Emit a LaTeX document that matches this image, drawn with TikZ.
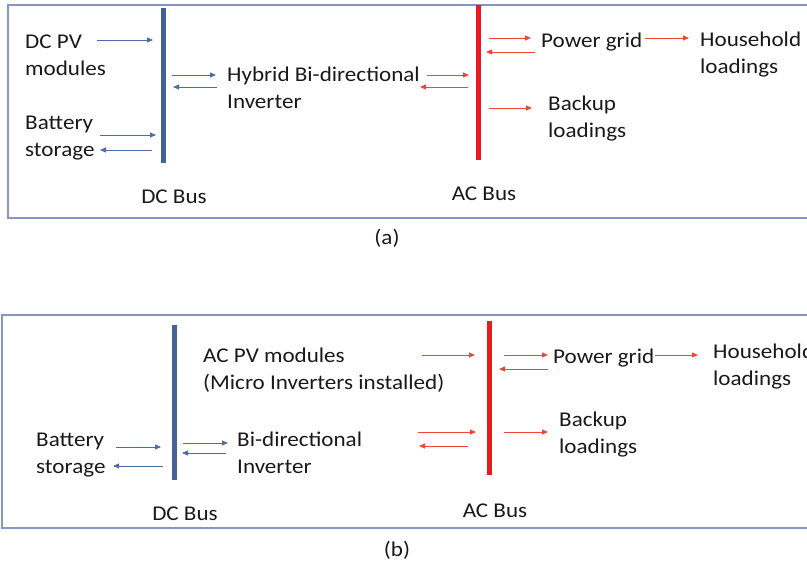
\documentclass[tikz,border=0pt]{standalone}
\usepackage{fontspec}
\setmainfont{Carlito}[FakeStretch=1.1]
\usetikzlibrary{arrows.meta}
\definecolor{frameblue}{RGB}{135,148,196}
\definecolor{busblue}{RGB}{68,98,150}
\definecolor{arrblue}{RGB}{78,108,168}
\definecolor{busred}{RGB}{232,28,32}
\definecolor{arrred}{RGB}{240,70,55}
\definecolor{txt}{RGB}{25,25,25}
\tikzset{
  lbl/.style={anchor=base west, inner sep=0pt, align=left, text=txt, font=\fontsize{21}{26.5}\selectfont},
  captxt/.style={anchor=base, inner sep=0pt, text=txt, font=\fontsize{21}{26.5}\selectfont},
  frame/.style={draw=frameblue, line width=1.3pt},
  dcbus/.style={draw=none, fill=busblue, minimum width=5pt, inner sep=0pt},
  acbus/.style={draw=none, fill=busred, minimum width=5pt, inner sep=0pt},
  barr/.style={draw=arrblue, line width=0.9pt, -{Triangle[length=6pt,width=5pt]}},
  rarr/.style={draw=arrred, line width=0.9pt, -{Triangle[length=6pt,width=5pt]}},
}
\begin{document}
\begin{tikzpicture}[x=1pt,y=-1pt]
\useasboundingbox (0,0) rectangle (807,565);
\clip (0,0) rectangle (807,565);
% ---------------- panel (a)
\draw[frame] (8,5) rectangle (830,218);
\node[dcbus, minimum height=155pt] (dcA) at (163,85.5) {};
\node[acbus, minimum height=155pt] (acA) at (478,82.5) {};
\node[lbl] (pvA) at (25,75) {DC PV\\modules};
\node[lbl] (batA) at (25,156) {Battery\\storage};
\node[lbl] (invA) at (227,108) {Hybrid Bi-directional\\Inverter};
\node[lbl] (gridA) at (541,47) {Power grid};
\node[lbl] (houseA) at (700,73) {Household\\loadings};
\node[lbl] (backA) at (548,137) {Backup\\loadings};
\node[captxt] (dcbA) at (174,203) {DC Bus};
\node[captxt] (acbA) at (484,200) {AC Bus};
\node[captxt] (capA) at (387,244) {(a)};
\coordinate (a1s) at (97,40);   \coordinate (a1e) at (153,40);
\coordinate (a2s) at (100,135); \coordinate (a2e) at (156,135);
\coordinate (a3s) at (152,150); \coordinate (a3e) at (100,150);
\coordinate (a4s) at (172,75);  \coordinate (a4e) at (216,75);
\coordinate (a5s) at (217,87);  \coordinate (a5e) at (173,87);
\coordinate (a6s) at (427,75);  \coordinate (a6e) at (469,75);
\coordinate (a7s) at (468,87);  \coordinate (a7e) at (420,87);
\coordinate (a8s) at (489,38);  \coordinate (a8e) at (531,38);
\coordinate (a9s) at (535,52);  \coordinate (a9e) at (486,52);
\coordinate (a10s) at (645,38); \coordinate (a10e) at (689,38);
\coordinate (a11s) at (489,108);\coordinate (a11e) at (532,108);
\draw[barr] (a1s) -- (a1e);
\draw[barr] (a2s) -- (a2e);
\draw[barr] (a3s) -- (a3e);
\draw[barr] (a4s) -- (a4e);
\draw[barr] (a5s) -- (a5e);
\draw[rarr] (a6s) -- (a6e);
\draw[rarr] (a7s) -- (a7e);
\draw[rarr] (a8s) -- (a8e);
\draw[rarr] (a9s) -- (a9e);
\draw[rarr] (a10s) -- (a10e);
\draw[rarr] (a11s) -- (a11e);
% ---------------- panel (b)
\draw[frame] (2,315) rectangle (830,528);
\node[dcbus, minimum height=155pt] (dcB) at (174,402.5) {};
\node[acbus, minimum height=154pt] (acB) at (489,398) {};
\node[lbl] (pvB) at (203,389) {AC PV modules\\(Micro Inverters installed)};
\node[lbl] (batB) at (36,473) {Battery\\storage};
\node[lbl] (invB) at (237,473) {Bi-directional\\Inverter};
\node[lbl] (gridB) at (553,363) {Power grid};
\node[lbl] (houseB) at (713,385) {Household\\loadings};
\node[lbl] (backB) at (559,453) {Backup\\loadings};
\node[captxt] (dcbB) at (185,520) {DC Bus};
\node[captxt] (acbB) at (495,517) {AC Bus};
\node[captxt] (capB) at (397,556) {(b)};
\coordinate (b1s) at (116,447); \coordinate (b1e) at (161,447);
\coordinate (b2s) at (163,466); \coordinate (b2e) at (113,466);
\coordinate (b3s) at (183,443); \coordinate (b3e) at (228,443);
\coordinate (b4s) at (226,453); \coordinate (b4e) at (182,453);
\coordinate (b5s) at (422,355); \coordinate (b5e) at (475,355);
\coordinate (b6s) at (418,432); \coordinate (b6e) at (476,432);
\coordinate (b7s) at (468,446); \coordinate (b7e) at (419,446);
\coordinate (b8s) at (504,355); \coordinate (b8e) at (548,355);
\coordinate (b9s) at (548,369); \coordinate (b9e) at (499,369);
\coordinate (b10s) at (655,355);\coordinate (b10e) at (698,355);
\coordinate (b11s) at (504,432);\coordinate (b11e) at (548,432);
\draw[barr] (b1s) -- (b1e);
\draw[barr] (b2s) -- (b2e);
\draw[barr] (b3s) -- (b3e);
\draw[barr] (b4s) -- (b4e);
\draw[rarr] (b5s) -- (b5e);
\draw[rarr] (b6s) -- (b6e);
\draw[rarr] (b7s) -- (b7e);
\draw[rarr] (b8s) -- (b8e);
\draw[rarr] (b9s) -- (b9e);
\draw[rarr] (b10s) -- (b10e);
\draw[rarr] (b11s) -- (b11e);
\end{tikzpicture}
\end{document}
